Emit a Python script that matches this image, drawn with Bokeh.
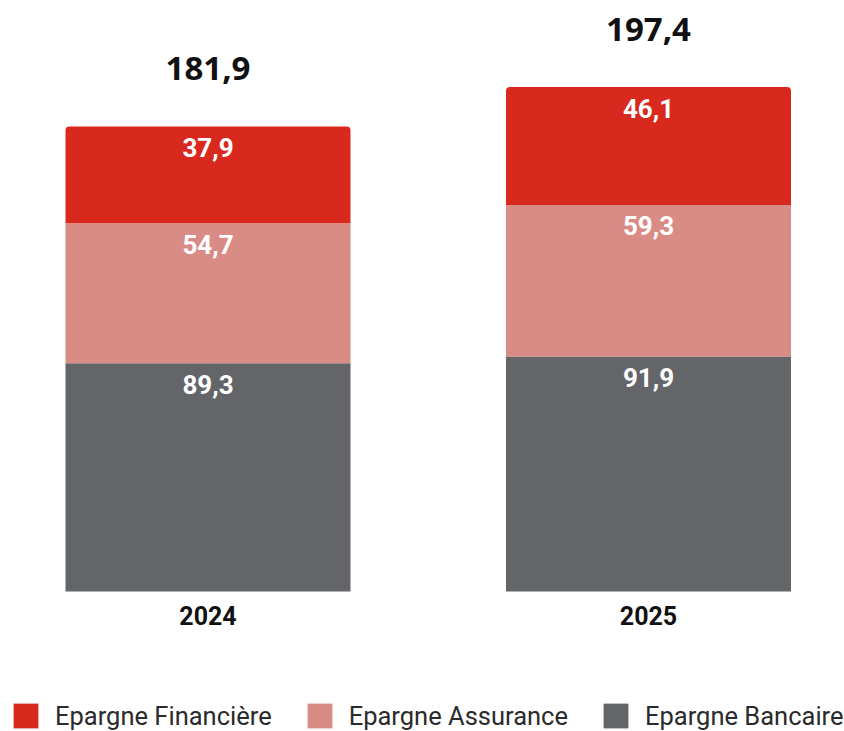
from bokeh.plotting import figure
from bokeh.models import ColumnDataSource, Range1d, Legend, LegendItem
from bokeh.core.properties import value
from bokeh.embed import file_html
from bokeh.resources import INLINE

years = ["2024", "2025"]
bancaire = [89.3, 91.9]
assurance = [54.7, 59.3]
financiere = [37.9, 46.1]
totals = [181.9, 197.4]
series_names = ["Epargne Bancaire", "Epargne Assurance", "Epargne Financière"]
colors = ["#636569", "#d98c85", "#d9291e"]

def fmt(v):
    return f"{v:.1f}".replace(".", ",")

xs = list(range(len(years)))

W, H = 844, 731
scale = 2.557
y0_px = 591
xstart = -207.5 / 440.5
p = figure(width=W, height=H, output_backend="svg", toolbar_location=None,
           x_range=Range1d(xstart, xstart + W / 440.5),
           y_range=Range1d(-(H - y0_px) / scale, y0_px / scale),
           min_border=0, min_border_left=0, min_border_right=0,
           min_border_top=0, min_border_bottom=0)
p.axis.visible = False
p.grid.visible = False
p.outline_line_color = None
p.background_fill_color = "white"

src = ColumnDataSource(dict(x=xs, b=bancaire, a=assurance, f=financiere))
rs = p.vbar_stack(["b", "a", "f"], x="x", width=285 / 440.5, color=colors,
                  line_color=None, source=src)
if hasattr(rs[2].glyph, "border_radius"):
    rs[2].glyph.border_radius = (4, 4, 0, 0)

# segment labels
lx, ly, lt = [], [], []
for i in xs:
    bottom = 0.0
    for vals in (bancaire, assurance, financiere):
        top = bottom + vals[i]
        lx.append(i); ly.append(top); lt.append(fmt(vals[i]))
        bottom = top
p.text(x=lx, y=ly, text=lt, y_offset=21, text_align="center",
       text_baseline="middle", text_color="white",
       text_font=value("Roboto"), text_font_style="bold",
       text_font_size="26px")

# totals
tops = [b + a + f for b, a, f in zip(bancaire, assurance, financiere)]
p.text(x=xs, y=tops, text=[fmt(t) for t in totals], y_offset=-58,
       text_align="center", text_baseline="middle", text_color="#111111",
       text_font=value("Open Sans"), text_font_style="bold",
       text_font_size="33px")

# year labels
p.text(x=xs, y=[0] * len(xs), text=years, y_offset=24, text_align="center",
       text_baseline="middle", text_color="#111111",
       text_font=value("Roboto"), text_font_style="bold",
       text_font_size="25px")

items = [LegendItem(label=series_names[k], renderers=[rs[k]]) for k in (2, 1, 0)]
legend = Legend(items=items, orientation="horizontal", location=(10, 0),
                padding=0, margin=0, spacing=32, label_standoff=14,
                glyph_width=31, glyph_height=31, label_height=31,
                border_line_color=None, background_fill_alpha=0,
                label_text_font="Roboto", label_text_font_size="25.5px",
                label_text_color="#2b2b2b")
p.add_layout(legend, "center")

open("out.html", "w").write(file_html(p, INLINE))
